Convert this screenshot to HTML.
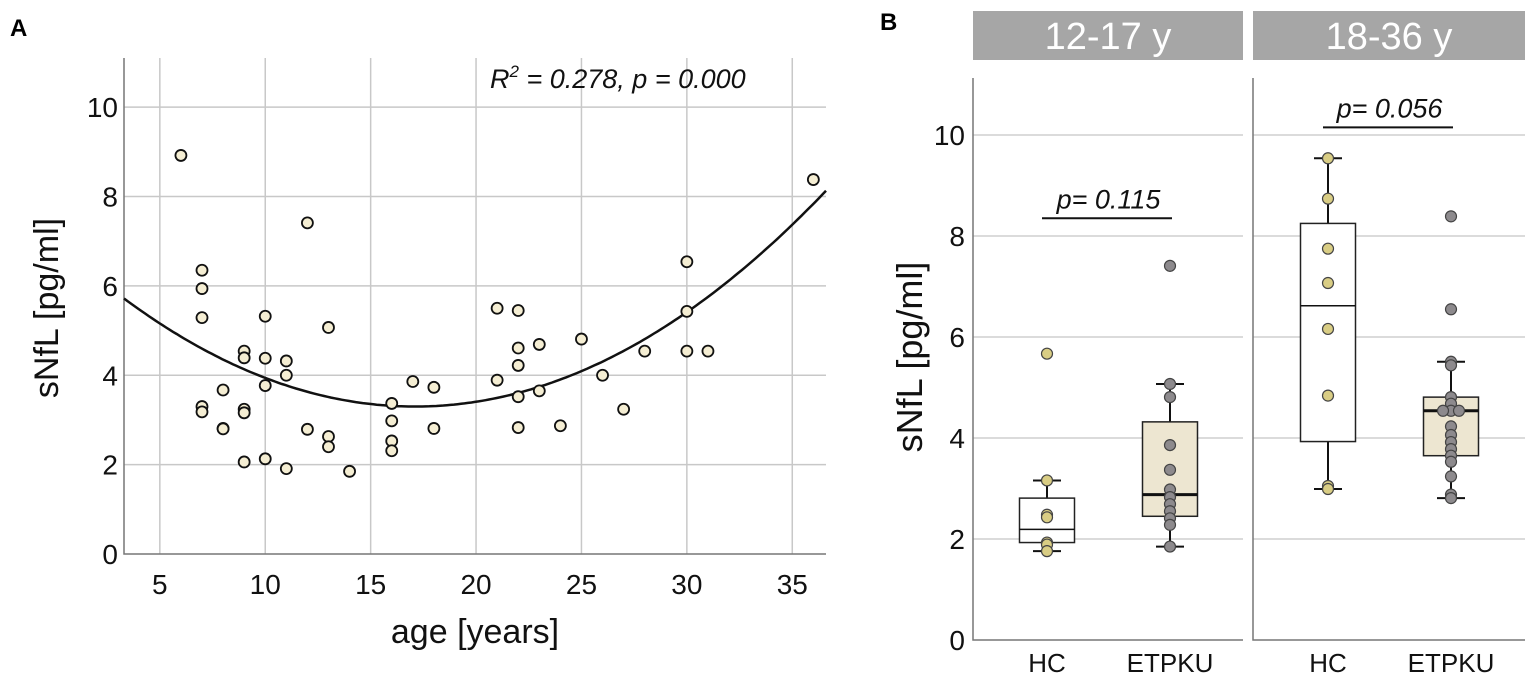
<!DOCTYPE html>
<html><head><meta charset="utf-8"><style>
body{margin:0;background:#fff;}
svg{display:block;font-family:"Liberation Sans",Arial,sans-serif;}
</style></head><body>
<svg id="fig" width="1536" height="682" viewBox="0 0 1536 682">
<text x="10" y="36" font-size="24" font-weight="bold">A</text>
<text x="880" y="30" font-size="24" font-weight="bold">B</text>
<g id="pa"></g>
<g id="pb"></g>
</svg>
<script>
// ---- Panel A data ----
const ages = [6,7,7,7,7,7,8,8,8,9,9,9,9,9,10,10,10,10,11,11,11,12,12,13,13,13,14,16,16,16,16,17,18,18,21,21,22,22,22,22,22,23,23,24,25,26,27,28,30,30,30,31,36];
const nfl  = [8.92,6.35,5.94,5.29,3.30,3.18,3.67,2.81,2.80,4.54,4.39,3.24,3.16,2.06,5.32,4.38,3.77,2.13,4.32,4.00,1.91,7.41,2.79,5.07,2.63,2.40,1.85,3.37,2.98,2.53,2.31,3.86,3.73,2.81,5.50,3.89,5.45,4.61,4.22,3.52,2.83,4.69,3.65,2.87,4.81,4.00,3.24,4.54,6.54,5.43,4.54,4.54,8.38];
const xTicksA = [5,10,15,20,25,30,35];
const yTicksA = [0,2,4,6,8,10];
const fitCoef = [0.0127, 17.1, 3.3]; // a, vertex age, vertex value

// ---- Panel B data ----
const facets = ["12-17 y","18-36 y"];
const groups = ["HC","ETPKU"];
const pvals = ["p= 0.115","p= 0.056"];
const pLabelY = [8.55, 10.35];
// box stats: [lowerWhisker, q1, median, q3, upperWhisker]
const box1HC = [1.76,1.93,2.19,2.81,3.16];
const box1PKU = [1.85,2.45,2.88,4.32,5.07];
const box2HC = [2.99,3.93,6.62,8.25,9.54];
const box2PKU = [2.81,3.65,4.54,4.81,5.51];
const pts1HC = [5.67,3.16,2.48,2.43,1.93,1.89,1.76];
const pts1PKU = [7.41,5.07,4.81,3.86,3.37,2.98,2.83,2.69,2.55,2.41,2.28,1.85];
const pts2HC = [9.54,8.74,7.75,7.07,6.16,4.84,3.05,2.99];
const pts2PKU = [8.39,6.55,5.51,5.44,4.81,4.68,4.54,4.54,4.54,4.23,4.06,3.92,3.78,3.65,3.53,3.24,2.88,2.81];
const yTicksB = [0,2,4,6,8,10];

const NS="http://www.w3.org/2000/svg";
function mk(parent,tag,attrs,text){const e=document.createElementNS(NS,tag);for(const k in attrs)e.setAttribute(k,attrs[k]);if(text!==undefined)e.textContent=text;parent.appendChild(e);return e;}

// ---- Panel A ----
const pa=document.getElementById('pa');
const AX={l:124,r:826,t:58,b:554,xmin:3.3,xmax:36.6,ymax:11.1};
const xA=v=>AX.l+(v-AX.xmin)/(AX.xmax-AX.xmin)*(AX.r-AX.l);
const yA=v=>AX.b-v/AX.ymax*(AX.b-AX.t);
xTicksA.forEach(t=>{
  const g=mk(pa,'line',{x1:xA(t),x2:xA(t),y1:AX.t,y2:AX.b,stroke:'#c8c8c8','stroke-width':1.5});
  
  
  const l=mk(pa,'text',{x:xA(t),y:AX.b+40,'font-size':28,'text-anchor':'middle',fill:'#111'},t);
  
  
});
yTicksA.forEach(t=>{
  if(t>0){const g=mk(pa,'line',{x1:AX.l,x2:AX.r,y1:yA(t),y2:yA(t),stroke:'#c8c8c8','stroke-width':1.5});
  
  }
  const l=mk(pa,'text',{x:AX.l-6,y:yA(t)+10,'font-size':28,'text-anchor':'end',fill:'#111'},t);
  
  
});
let ax=mk(pa,'path',{d:`M${AX.l},${AX.t}V${AX.b}H${AX.r}`,fill:'none',stroke:'#777','stroke-width':1.5});


let pts='';
for(let i=0;i<=200;i++){const x=AX.xmin+(AX.xmax-AX.xmin)*i/200;const y=fitCoef[0]*(x-fitCoef[1])**2+fitCoef[2];pts+=(i?'L':'M')+xA(x).toFixed(1)+','+yA(y).toFixed(1);}
let fit=mk(pa,'path',{d:pts,fill:'none',stroke:'#111','stroke-width':2.5});


ages.forEach((a,i)=>{
  const c=mk(pa,'circle',{cx:xA(a),cy:yA(nfl[i]),r:5.5,fill:'#f5eed3',stroke:'#111','stroke-width':1.8});
  
  
});
let r2=mk(pa,'text',{x:490,y:88,'font-size':27,'font-style':'italic',fill:'#111'});
r2.innerHTML='R<tspan font-size="17" dy="-11">2</tspan><tspan dy="11"> = 0.278, p = 0.000</tspan>';


let xt=mk(pa,'text',{x:475,y:643,'font-size':34,'text-anchor':'middle',fill:'#111'},'age [years]');


let yt=mk(pa,'text',{x:0,y:0,'font-size':34,'text-anchor':'middle',fill:'#111',transform:'translate(58,308) rotate(-90)'},'sNfL [pg/ml]');



// ---- Panel B ----
const pb=document.getElementById('pb');
const BY={t:78,b:640,ymax:11.13};
const yB=v=>BY.b-v/BY.ymax*(BY.b-BY.t);
const facetX=[[973,1243],[1253,1525]];
const grpX=[[1047,1170],[1328,1451]];
const boxes=[[box1HC,box1PKU],[box2HC,box2PKU]];
const points=[[pts1HC,pts1PKU],[pts2HC,pts2PKU]];
const ptFill=['#d9cd84','#8d8a8d'];
const boxFill=['#ffffff','#ede6d1'];
facets.forEach((f,fi)=>{
  const [x0,x1]=facetX[fi];
  const s=mk(pb,'rect',{x:x0,y:11,width:x1-x0,height:49,fill:'#a6a6a6'});
  
  
  const st=mk(pb,'text',{x:(x0+x1)/2,y:49,'font-size':38,'text-anchor':'middle',fill:'#fff'},f);
  
  
  yTicksB.forEach(t=>{ if(t>0){
    const g=mk(pb,'line',{x1:x0,x2:x1,y1:yB(t),y2:yB(t),stroke:'#cfcfcf','stroke-width':1.5});
    
    }});
  const a=mk(pb,'path',{d:`M${x0},${BY.t}V${BY.b}H${x1}`,fill:'none',stroke:'#777','stroke-width':1.5});
  
  
  groups.forEach((g,gi)=>{
    const cx=grpX[fi][gi]; const b=boxes[fi][gi];
    const w=mk(pb,'line',{x1:cx,x2:cx,y1:yB(b[0]),y2:yB(b[4]),stroke:'#111','stroke-width':2});
    
    
    [b[0],b[4]].forEach(v=>{const c=mk(pb,'line',{x1:cx-14,x2:cx+14,y1:yB(v),y2:yB(v),stroke:'#111','stroke-width':2});
      
      });
    const r=mk(pb,'rect',{x:cx-27.5,y:yB(b[3]),width:55,height:yB(b[1])-yB(b[3]),fill:boxFill[gi],stroke:'#222','stroke-width':1.5});
    
    
    const m=mk(pb,'line',{x1:cx-27.5,x2:cx+27.5,y1:yB(b[2]),y2:yB(b[2]),stroke:'#111','stroke-width':gi?3:1.5});
    
    
    const pv=points[fi][gi]; const seen={};
    pv.forEach(v=>{const k=v.toFixed(2);seen[k]=(seen[k]||0)+1;const n=seen[k]-1;const off=n===0?0:(n%2?-1:1)*Math.ceil(n/2)*8;
      const c=mk(pb,'circle',{cx:cx+off,cy:yB(v),r:5.5,fill:ptFill[gi],stroke:'#444','stroke-width':1.2});
      
      });
    const l=mk(pb,'text',{x:cx,y:672,'font-size':26,'text-anchor':'middle',fill:'#111'},g);
    
    
  });
  const py=yB(pLabelY[fi]);
  const pt=mk(pb,'text',{x:(grpX[fi][0]+grpX[fi][1])/2,y:py,'font-size':27,'font-style':'italic','text-anchor':'middle',fill:'#111'},pvals[fi]);
  
  
  const u=mk(pb,'line',{x1:grpX[fi][0]-5,x2:grpX[fi][1]+2,y1:py+10,y2:py+10,stroke:'#111','stroke-width':2});
  
  
});
yTicksB.forEach(t=>{
  const l=mk(pb,'text',{x:965,y:yB(t)+10,'font-size':28,'text-anchor':'end',fill:'#111'},t);
  
  
});
let ybt=mk(pb,'text',{x:0,y:0,'font-size':36,'text-anchor':'middle',fill:'#111',transform:'translate(922,357) rotate(-90)'},'sNfL [pg/ml]');


</script>
</body></html>
